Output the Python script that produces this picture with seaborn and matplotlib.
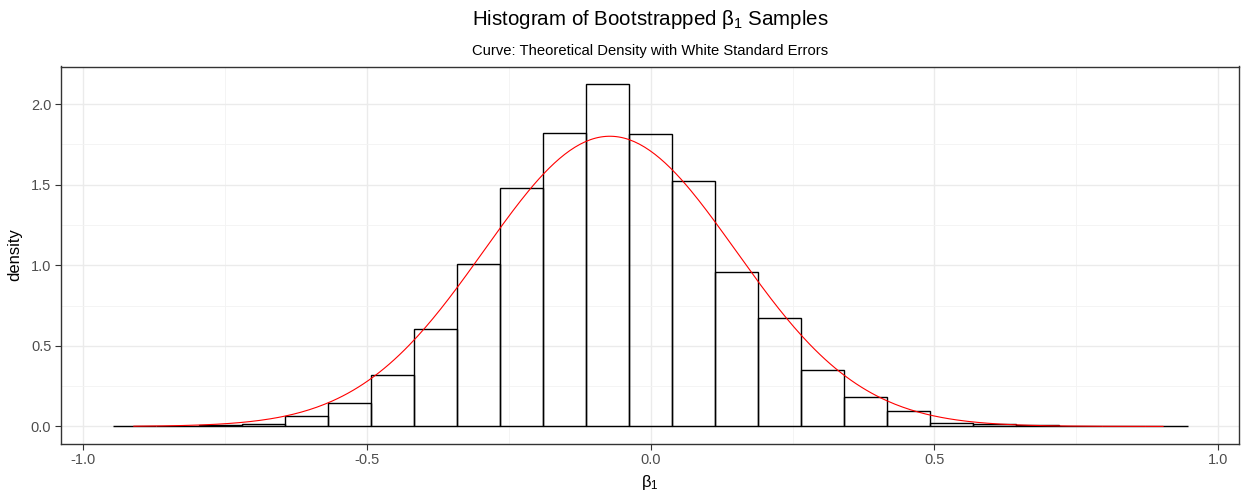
import numpy as np
import pandas as pd
import seaborn as sns
import matplotlib.pyplot as plt
from matplotlib.ticker import MultipleLocator

# histogram of bootstrapped beta_1 (density per bin)
hist_lo = -0.948
hist_hi = 0.947
n_bins = 25
densities = [0.0, 0.003, 0.008, 0.015, 0.066, 0.145, 0.316, 0.603, 1.005,
             1.478, 1.821, 2.127, 1.815, 1.521, 0.959, 0.674, 0.352, 0.18,
             0.095, 0.02, 0.012, 0.006, 0.002, 0.001, 0.0]

# theoretical normal density (white standard errors)
beta_mean = -0.072
white_se = 0.2216
curve_lo = -0.911
curve_hi = 0.903

x_ticks = [-1.0, -0.5, 0.0, 0.5, 1.0]
y_ticks = [0.0, 0.5, 1.0, 1.5, 2.0]

edges = np.linspace(hist_lo, hist_hi, n_bins + 1)
centers = (edges[:-1] + edges[1:]) / 2
hist_df = pd.DataFrame({"beta1": centers, "density": densities})

xs = np.linspace(curve_lo, curve_hi, 400)
curve_df = pd.DataFrame({
    "beta1": xs,
    "density": np.exp(-0.5 * ((xs - beta_mean) / white_se) ** 2) / (white_se * np.sqrt(2 * np.pi)),
})

sns.set_theme(style="white")
plt.rcParams["font.family"] = ["Liberation Sans", "DejaVu Sans"]
plt.rcParams["mathtext.fontset"] = "custom"
plt.rcParams["mathtext.rm"] = "Liberation Sans"
plt.rcParams["mathtext.it"] = "Liberation Sans"
plt.rcParams["text.color"] = "black"
plt.rcParams["axes.labelcolor"] = "black"

fig, ax = plt.subplots(figsize=(12.43, 4.93), dpi=100)
fig.subplots_adjust(left=61 / 1243, right=1239 / 1243, bottom=1 - 443.5 / 493, top=1 - 66.5 / 493)

sns.histplot(data=hist_df, x="beta1", weights="density", bins=list(edges), stat="count",
             fill=False, color="black", linewidth=1.0, ax=ax)
sns.lineplot(data=curve_df, x="beta1", y="density", color="red", linewidth=0.8, ax=ax)

ax.set_xlim(-1.039, 1.0365)
ax.set_ylim(-0.106, 2.233)
ax.set_xticks(x_ticks)
ax.set_yticks(y_ticks)
ax.xaxis.set_minor_locator(MultipleLocator(0.25))
ax.yaxis.set_minor_locator(MultipleLocator(0.25))
ax.set_xticklabels([f"{v:.1f}" for v in x_ticks])
ax.set_yticklabels([f"{v:.1f}" for v in y_ticks])
ax.grid(which="major", color="#EBEBEB", linewidth=1.0)
ax.grid(which="minor", color="#F3F3F3", linewidth=0.6)
ax.set_axisbelow(True)
ax.tick_params(which="major", length=4, width=0.8, color="#333333", labelsize=10.5,
               labelcolor="#4D4D4D", pad=3, bottom=True, left=True)
ax.tick_params(which="minor", length=0)
for s in ax.spines.values():
    s.set_color("#333333")
    s.set_linewidth(1.0)

ax.set_xlabel(r"$\beta_1$", fontsize=12, labelpad=4)
ax.set_ylabel("density", fontsize=12, labelpad=6)
fig.suptitle(r"Histogram of Bootstrapped $\beta_1$ Samples", x=650 / 1243, y=1 - 8 / 493,
             va="top", fontsize=14.8)
ax.set_title("Curve: Theoretical Density with White Standard Errors", fontsize=10.6, pad=8)

plt.savefig("out.png", dpi=100)
